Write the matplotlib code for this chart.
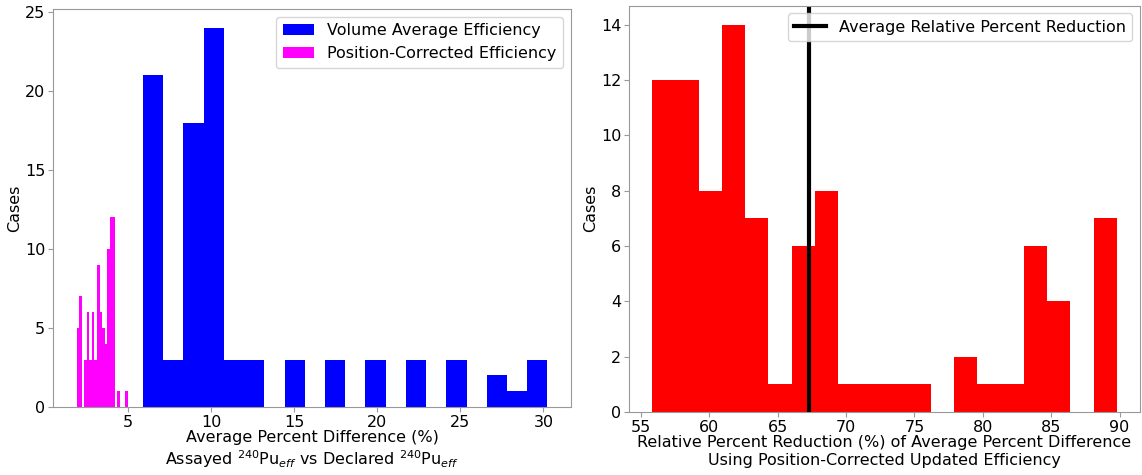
import numpy as np
import matplotlib
matplotlib.use("Agg")
import matplotlib.pyplot as plt

# Left panel: average percent difference histograms (20 bins each)
volume_range = (5.90, 30.24)
volume_counts = [21, 3, 18, 24, 3, 3, 0, 3, 0, 3, 0, 3, 0, 3, 0, 3, 0, 2, 1, 3]

position_range = (1.90, 4.98)
position_counts = [5, 7, 0, 3, 6, 3, 6, 3, 9, 6, 5, 4, 10, 12, 12, 0, 1, 0, 0, 1]

# Right panel: relative percent reduction histogram
reduction_range = (55.83, 89.80)
reduction_counts = [12, 12, 8, 14, 7, 1, 6, 8, 1, 1, 1, 1, 0, 2, 1, 1, 6, 4, 0, 7]
mean_reduction = 67.3

plt.rcParams['font.size'] = 11.5

fig = plt.figure(figsize=(11.42, 4.75), dpi=100)
ax1 = fig.add_axes([0.0464, 0.1432, 0.4536, 0.8379])
ax2 = fig.add_axes([0.5508, 0.1326, 0.4475, 0.8558])


def draw_hist(ax, rng, counts, color, label=None):
    edges = np.linspace(rng[0], rng[1], len(counts) + 1)
    ax.hist(edges[:-1], bins=edges, weights=counts, color=color, label=label)


draw_hist(ax1, volume_range, volume_counts, 'blue', 'Volume Average Efficiency')
draw_hist(ax1, position_range, position_counts, 'magenta', 'Position-Corrected Efficiency')
ax1.set_ylabel('Cases', labelpad=2)
ax1.set_xlabel('Average Percent Difference (%)\n'
               'Assayed $^{240}$Pu$_{eff}$ vs Declared $^{240}$Pu$_{eff}$',
               labelpad=0, linespacing=1.25)
ax1.legend(loc='upper right')

draw_hist(ax2, reduction_range, reduction_counts, 'red')
ax2.axvline(mean_reduction, color='black', lw=3, label='Average Relative Percent Reduction')
ax2.set_ylabel('Cases', labelpad=2)
ax2.set_xlabel('Relative Percent Reduction (%) of Average Percent Difference\n'
               'Using Position-Corrected Updated Efficiency',
               labelpad=0, linespacing=1.25)
ax2.legend(loc='upper right')

for ax in (ax1, ax2):
    for s in ax.spines.values():
        s.set_color('0.6')
    ax.tick_params(color='0.6', pad=2)

fig.savefig('out.png', dpi=100)
